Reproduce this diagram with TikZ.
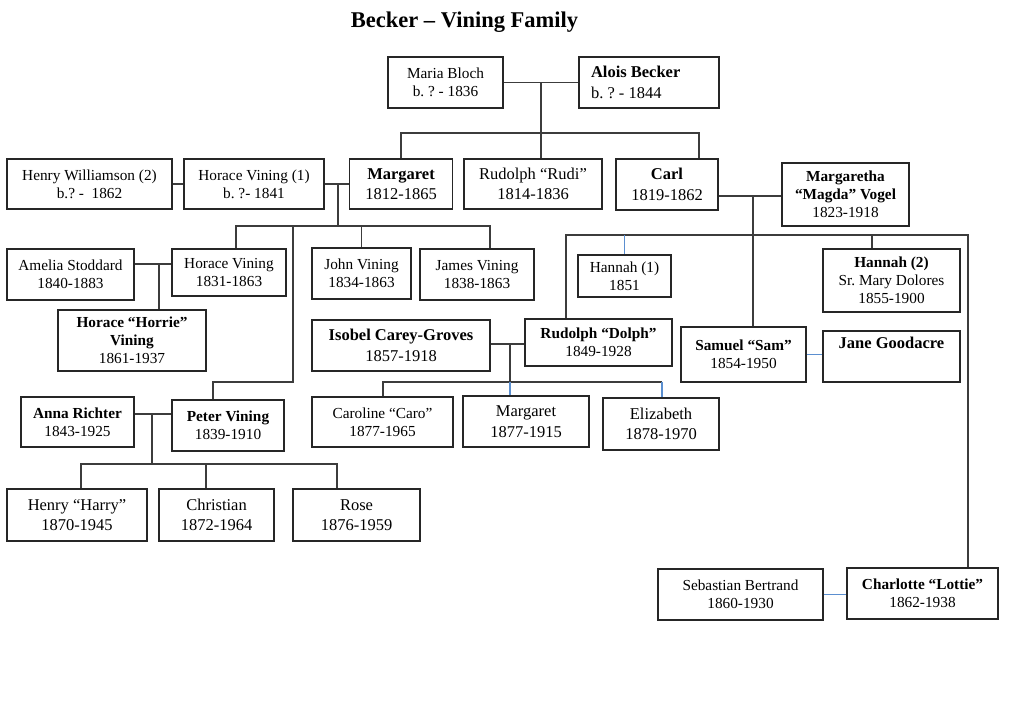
\documentclass[tikz,border=0pt]{standalone}
\usepackage{fontspec}
\setmainfont{Liberation Serif}
\usetikzlibrary{calc}
\frenchspacing
\definecolor{boxline}{HTML}{262626}
\definecolor{kinline}{HTML}{3c3c3c}
\definecolor{kinblue}{HTML}{5b8fd0}
\newcommand{\smalltxt}{\fontsize{15.3}{18}\selectfont}
\newcommand{\bigtxt}{\fontsize{16.5}{20.5}\selectfont}
\newcommand{\titletxt}{\fontsize{22.5}{26}\selectfont\bfseries}
\tikzset{
  person/.style  = {draw=boxline, line width=1.2pt, fill=white,
                    inner sep=0pt, align=center, font=\smalltxt},
  big/.style     = {font=\bigtxt},
  boxsz/.style 2 args = {minimum width=#1pt, minimum height=#2pt},
  kin/.style     = {draw=kinline, line width=1.2pt},
  kinb/.style    = {draw=kinblue, line width=1.2pt},
}

\begin{document}
\begin{tikzpicture}[x=1pt, y=-1pt]
    \useasboundingbox (0,0) rectangle (1024,727);
    \node[font=\titletxt] (title) at (464.5,22) {Becker – Vining Family};

    \node[person, boxsz={115}{51}]      (maria)     at (445.5,82.5) {Maria Bloch\\b. ? - 1836};
    \node[person, big, boxsz={140}{51}, text width=116pt, align=flush left]
                                        (alois)     at (649,82.5)   {\textbf{Alois Becker}\\b. ? - 1844};
    \node[person, boxsz={165}{50}]      (henryw)    at (89.5,184)   {Henry Williamson (2)\\b.? -\ \ 1862};
    \node[person, boxsz={140}{50}]      (horace1)   at (254,184)    {Horace Vining (1)\\b. ?- 1841};
    \node[person, big, boxsz={103}{50}] (margaret)  at (401,184)    {\textbf{Margaret}\\1812-1865};
    \node[person, big, boxsz={138}{50}] (rudi)      at (533,184)    {Rudolph “Rudi”\\1814-1836};
    \node[person, big, boxsz={102}{51}] (carl)      at (667,184.5)  {\textbf{Carl}\\1819-1862};
    \node[person, boxsz={127}{63}]      (magda)     at (845.5,194.5) {\textbf{Margaretha}\\\textbf{“Magda” Vogel}\\1823-1918};

    \node[person, boxsz={127}{51}]      (amelia)    at (70.5,274.5) {Amelia Stoddard\\1840-1883};
    \node[person, boxsz={114}{47}]      (horacev)   at (229,272.5)  {Horace Vining\\1831-1863};
    \node[person, boxsz={148}{61}]      (horrie)    at (132,340.5)  {\textbf{Horace “Horrie”}\\\textbf{Vining}\\1861-1937};
    \node[person, boxsz={99}{51}]       (john)      at (361.5,273.5) {John Vining\\1834-1863};
    \node[person, boxsz={114}{51}]      (james)     at (477,274.5)  {James Vining\\1838-1863};
    \node[person, boxsz={93}{42}]       (hannah1)   at (624.5,276)  {Hannah (1)\\1851};
    \node[person, boxsz={137}{63}]      (hannah2)   at (891.5,280.5) {\textbf{Hannah (2)}\\Sr. Mary Dolores\\1855-1900};
    \node[person, big, boxsz={178}{51}] (isobel)    at (401,345.5)  {\textbf{Isobel Carey-Groves}\\1857-1918};
    \node[person, boxsz={147}{47}]      (dolph)     at (598.5,342.5) {\textbf{Rudolph “Dolph”}\\1849-1928};
    \node[person, boxsz={125}{55}]      (sam)       at (743.5,354.5) {\textbf{Samuel “Sam”}\\1854-1950};
    \node[person, big, boxsz={137}{51}] (jane)      at (891.5,356.5) {\textbf{Jane Goodacre}\\\strut};

    \node[person, boxsz={113}{50}]      (anna)      at (77.5,422)   {\textbf{Anna Richter}\\1843-1925};
    \node[person, boxsz={112}{51}]      (peter)     at (228,425.5)  {\textbf{Peter Vining}\\1839-1910};
    \node[person, boxsz={141}{50}]      (caroline)  at (382.5,422)  {Caroline “Caro”\\1877-1965};
    \node[person, big, boxsz={126}{51}] (margaret2) at (526,421.5)  {Margaret\\1877-1915};
    \node[person, big, boxsz={116}{52}] (elizabeth) at (661,424)    {Elizabeth\\1878-1970};
    \node[person, big, boxsz={140}{52}] (harry)     at (77,515)     {Henry “Harry”\\1870-1945};
    \node[person, big, boxsz={115}{52}] (christian) at (216.5,515)  {Christian\\1872-1964};
    \node[person, big, boxsz={127}{52}] (rose)      at (356.5,515)  {Rose\\1876-1959};
    \node[person, boxsz={165}{51}]      (sebastian) at (740.5,594.5) {Sebastian Bertrand\\1860-1930};
    \node[person, boxsz={151}{51}]      (lottie)    at (922.5,593.5) {\textbf{Charlotte “Lottie”}\\1862-1938};

    % Bloch - Becker
    \coordinate (mb) at (541,82.5);
    \coordinate (sibL) at (401,133);
    \coordinate (sibR) at (699,133);
    \draw[kin] (maria.east) -- (alois.west);
    \draw[kin] (mb) -- (mb |- rudi.north);
    \draw[kin] (margaret.north) -- (sibL) -- (sibR) -- (sibR |- carl.north);

    % Vining side
    \coordinate (hm) at (338,184);
    \coordinate (vbL) at (236,226);
    \coordinate (vbR) at (490,226);
    \coordinate (pk1) at (293,382);
    \coordinate (pk2) at (213,382);
    \draw[kin] (henryw.east) -- (horace1.west);
    \draw[kin] (horace1.east) -- (margaret.west);
    \draw[kin] (hm) -- (hm |- vbL);
    \draw[kin] (vbL |- horacev.north) -- (vbL) -- (vbR) -- (vbR |- james.north);
    \draw[kin] (john.north) -- (john.north |- vbL);
    \draw[kin] (pk1 |- vbL) -- (pk1) -- (pk2) -- (pk2 |- peter.north);

    \coordinate (ah) at (159,264);
    \draw[kin] (amelia.east |- ah) -- (horacev.west |- ah);
    \draw[kin] (ah) -- (ah |- horrie.north);

    \coordinate (ap) at (152,414);
    \coordinate (pbL) at (81,464);
    \coordinate (pbC) at (206,464);
    \coordinate (pbR) at (337,464);
    \draw[kin] (anna.east |- ap) -- (peter.west |- ap);
    \draw[kin] (ap) -- (ap |- pbL);
    \draw[kin] (pbL |- harry.north) -- (pbL) -- (pbR) -- (pbR |- rose.north);
    \draw[kin] (pbC) -- (pbC |- christian.north);

    % Becker side
    \coordinate (cm) at (753,196);
    \coordinate (bkL) at (566,235);
    \coordinate (bkH) at (872,235);
    \coordinate (bkR) at (968,235);
    \draw[kin] (carl.east |- cm) -- (magda.west |- cm);
    \draw[kin] (cm) -- (cm |- sam.north);
    \draw[kin] (bkL |- dolph.north) -- (bkL) -- (bkR) -- (bkR |- lottie.north);
    \draw[kin] (bkH) -- (bkH |- hannah2.north);
    \draw[kinb] (hannah1.north |- bkL) -- (hannah1.north);

    \coordinate (id) at (510,344);
    \coordinate (cbL) at (383,382);
    \coordinate (cbR) at (662,382);
    \draw[kin] (isobel.east |- id) -- (dolph.west |- id);
    \draw[kin] (id) -- (id |- cbL);
    \draw[kin] (cbL |- caroline.north) -- (cbL) -- (cbR);
    \draw[kinb] (id |- cbL) -- (id |- margaret2.north);
    \draw[kinb] (cbR) -- (cbR |- elizabeth.north);

    \draw[kinb] (sam.east) -- (sam.east -| jane.west);
    \draw[kinb] (sebastian.east) -- (sebastian.east -| lottie.west);
\end{tikzpicture}
\end{document}
